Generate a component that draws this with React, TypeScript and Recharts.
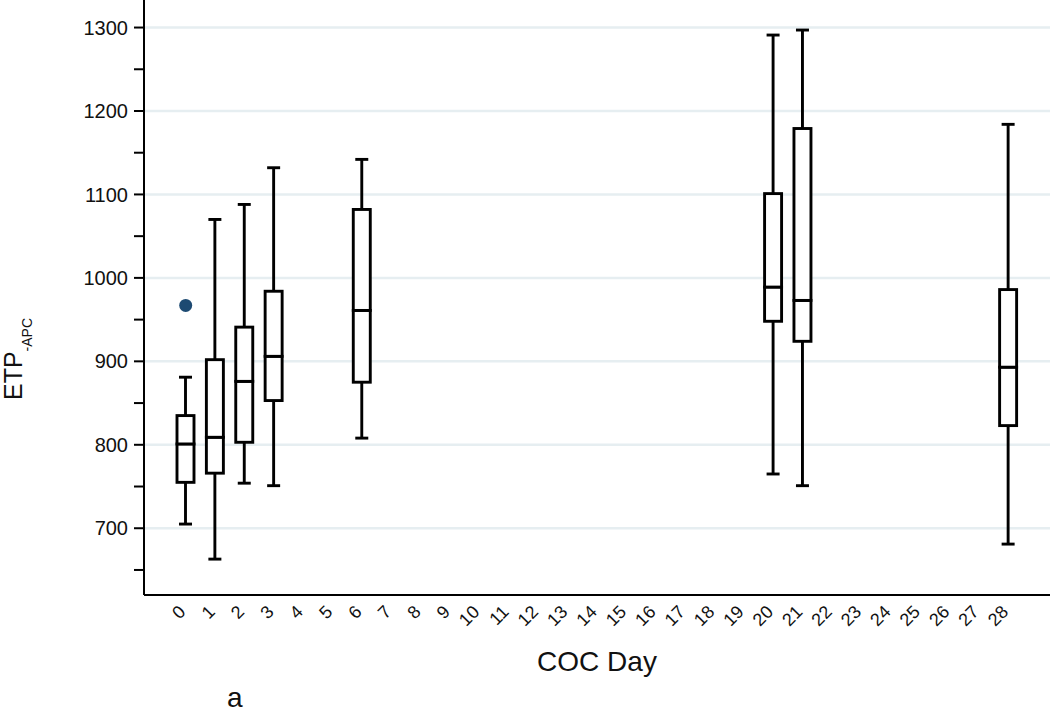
import React from 'react';
import { ComposedChart, Bar, Scatter, XAxis, YAxis, CartesianGrid } from 'recharts';

// Categories (COC day)
const days = ['0','1','2','3','4','5','6','7','8','9','10','11','12','13','14','15','16','17','18','19','20','21','22','23','24','25','26','27','28'];

// Box plot statistics (ETP-APC)
const boxDays = ['0', '1', '2', '3', '6', '20', '21', '28'];
const whiskerLow = [705, 663, 754, 751, 808, 765, 751, 681];
const quartile1 = [755, 766, 803, 853, 875, 948, 924, 823];
const medians = [801, 809, 876, 906, 961, 989, 973, 893];
const quartile3 = [835, 902, 941, 984, 1082, 1101, 1179, 986];
const whiskerHigh = [881, 1070, 1088, 1132, 1142, 1291, 1297, 1184];

// Outliers
const outlierDays = ['0'];
const outlierValues = [967];

// Axis ticks
const yTicks = [650, 700, 750, 800, 850, 900, 950, 1000, 1050, 1100, 1150, 1200, 1250, 1300];
const gridValues = [700, 800, 900, 1000, 1100, 1200, 1300];

const data = days.map((d) => {
  const i = boxDays.indexOf(d);
  const o = outlierDays.indexOf(d);
  const row: any = { day: d };
  if (i >= 0) {
    row.base = whiskerLow[i];
    row.lowW = quartile1[i] - whiskerLow[i];
    row.lowBox = medians[i] - quartile1[i];
    row.highBox = quartile3[i] - medians[i];
    row.highW = whiskerHigh[i] - quartile3[i];
  }
  if (o >= 0) row.outlier = outlierValues[o];
  return row;
});

const FONT = '"Liberation Sans", Arial, Helvetica, sans-serif';
const SW = 2.9;
const CAP = 13;

const valid = (p: any, key: string) => {
  const v = p && p.payload ? p.payload[key] : undefined;
  return v != null && !isNaN(p.height) && p.height != null;
};

const LowWhisker = (p: any) => {
  if (!valid(p, 'lowW')) return null;
  const { x, y, width, height } = p;
  const cx = x + width / 2;
  return (
    <g>
      <line x1={cx} x2={cx} y1={y} y2={y + height} stroke="#000" strokeWidth={SW} />
      <line x1={cx - CAP / 2} x2={cx + CAP / 2} y1={y + height} y2={y + height} stroke="#000" strokeWidth={SW} />
    </g>
  );
};

const HighWhisker = (p: any) => {
  if (!valid(p, 'highW')) return null;
  const { x, y, width, height } = p;
  const cx = x + width / 2;
  return (
    <g>
      <line x1={cx} x2={cx} y1={y} y2={y + height} stroke="#000" strokeWidth={SW} />
      <line x1={cx - CAP / 2} x2={cx + CAP / 2} y1={y} y2={y} stroke="#000" strokeWidth={SW} />
    </g>
  );
};

const makeBox = (key: string) => (p: any) => {
  if (!valid(p, key)) return null;
  const { x, y, width, height } = p;
  return <rect x={x} y={y} width={width} height={height} fill="#fff" stroke="#000" strokeWidth={SW} />;
};
const LowBox = makeBox('lowBox');
const HighBox = makeBox('highBox');

const OutlierDot = (p: any) => {
  const { cx, cy } = p;
  if (cx == null || cy == null || !p.payload || p.payload.outlier == null) return null;
  return <circle cx={cx} cy={cy} r={6.5} fill="#1d4a72" />;
};

const XTick = (p: any) => {
  const { x, y, payload } = p;
  const ty = y + 18;
  return (
    <text x={x + 1} y={ty} transform={`rotate(-45 ${x + 1} ${ty})`} textAnchor="end" fontSize={18} fontFamily={FONT} fill="#111">
      {payload.value}
    </text>
  );
};

export default function App() {
  return (
    <div style={{ position: 'absolute', left: 0, top: 0, width: 1050, height: 712, background: '#fff', overflow: 'hidden' }}>
      <ComposedChart width={1050} height={712} data={data} margin={{ top: 0, right: 0, bottom: 0, left: 0 }}>
        <CartesianGrid vertical={false} horizontalValues={gridValues} stroke="#e6eef1" strokeWidth={2.5} />
        <XAxis
          dataKey="day"
          type="category"
          interval={0}
          height={117}
          padding={{ left: 27, right: 27 }}
          axisLine={{ stroke: '#000', strokeWidth: 2 }}
          tickLine={false}
          tickSize={0}
          tickMargin={0}
          tick={<XTick />}
        />
        <YAxis
          type="number"
          width={144}
          domain={[620, 1333]}
          allowDataOverflow
          ticks={yTicks}
          interval={0}
          tickFormatter={(v: number) => (v % 100 === 0 ? String(v) : '')}
          axisLine={{ stroke: '#000', strokeWidth: 2 }}
          tickLine={{ stroke: '#000', strokeWidth: 2 }}
          tickSize={10}
          tickMargin={6}
          tick={{ fontSize: 20, fontFamily: FONT, fill: '#111' }}
        />
        <Bar dataKey="base" stackId="b" barSize={17} fill="none" isAnimationActive={false} shape={() => null} />
        <Bar dataKey="lowW" stackId="b" barSize={17} isAnimationActive={false} shape={<LowWhisker />} />
        <Bar dataKey="lowBox" stackId="b" barSize={17} isAnimationActive={false} shape={<LowBox />} />
        <Bar dataKey="highBox" stackId="b" barSize={17} isAnimationActive={false} shape={<HighBox />} />
        <Bar dataKey="highW" stackId="b" barSize={17} isAnimationActive={false} shape={<HighWhisker />} />
        <Scatter dataKey="outlier" isAnimationActive={false} shape={<OutlierDot />} />
      </ComposedChart>
      <svg width={1050} height={712} style={{ position: 'absolute', left: 0, top: 0, pointerEvents: 'none' }}>
        <text x={597} y={671} textAnchor="middle" fontSize={28} fontFamily={FONT} fill="#111">COC Day</text>
        <text x={227} y={707} fontSize={28} fontFamily={FONT} fill="#111">a</text>
        <text transform="translate(22,400) rotate(-90)" fontSize={25} fontFamily={FONT} fill="#111">
          ETP<tspan fontSize={14} dy={10}>-APC</tspan>
        </text>
      </svg>
    </div>
  );
}
